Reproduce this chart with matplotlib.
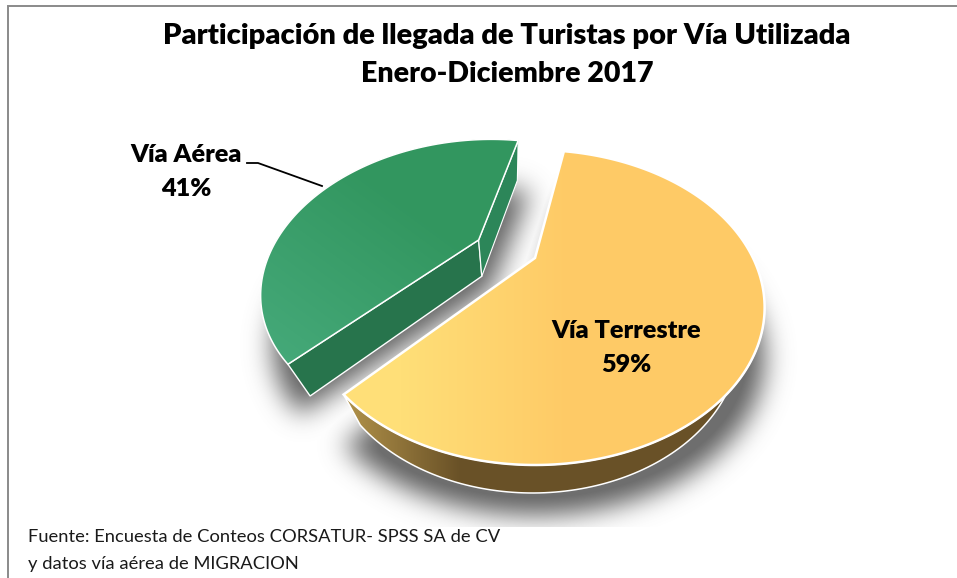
import numpy as np
import matplotlib
matplotlib.use("Agg")
import matplotlib.pyplot as plt
from matplotlib.patches import Polygon
from matplotlib.path import Path

W, H = 957, 578

categories = ["Vía Terrestre", "Vía Aérea"]
shares = [59, 41]
title_lines = ["Participación de llegada de Turistas por Vía Utilizada", "Enero-Diciembre 2017"]
source_lines = ["Fuente: Encuesta de Conteos CORSATUR- SPSS SA de CV", "y datos vía aérea de MIGRACION"]

plt.rcParams["font.family"] = ["Lato", "DejaVu Sans"]

# pie geometry, a flat disc seen in perspective
APEX_X, APEX_Y = 535, 258
SX, SY, PERSP = 218, 142, 0.314
START = -80
EXPLODE = [0, 0.3]


def project(x, y):
    w = 1 - PERSP * y
    return APEX_X + SX * x / w, APEX_Y + SY * y / w


def extrude(px, py, k=1.0):
    # lower face of the disc, pulled towards the vanishing point
    return 510 + (px - 510) * (1 - 0.1 * k), py + (45.2 - 0.037 * py) * k


def wedge(a0, a1, explode):
    mid = np.radians((a0 + a1) / 2)
    ex, ey = explode * np.cos(mid), explode * np.sin(mid)
    t = np.radians(np.linspace(a0, a1, 200))
    rim = np.column_stack(project(np.cos(t) + ex, np.sin(t) + ey))
    apex = np.array(project(ex, ey))
    return apex, rim


def blur(mask, sigma):
    r = int(sigma * 3)
    k = np.exp(-0.5 * (np.arange(-r, r + 1) / sigma) ** 2)
    k = k / k.sum()
    out = np.apply_along_axis(lambda v: np.convolve(v, k, mode="same"), 0, mask)
    return np.apply_along_axis(lambda v: np.convolve(v, k, mode="same"), 1, out)


yy, xx = np.mgrid[0:H, 0:W]
grid = np.column_stack([xx.ravel() + 0.5, yy.ravel() + 0.5])


def shadow(outline, dx, dy, sigma=13):
    p = outline + [dx, dy]
    m = Path(p).contains_points(grid).reshape(H, W).astype(float)
    m = blur(m, sigma)
    m[527:, :] = 0
    return m


def gradient(ax, poly, t, c0, c1, z):
    c0 = np.array(matplotlib.colors.to_rgb(c0))
    c1 = np.array(matplotlib.colors.to_rgb(c1))
    t = np.clip(t, 0, 1)[..., None]
    im = ax.imshow(c0 + (c1 - c0) * t, extent=(0, W, H, 0), zorder=z, interpolation="nearest", aspect="auto")
    patch = Polygon(poly, closed=True, transform=ax.transData, fc="none", ec="none")
    ax.add_patch(patch)
    im.set_clip_path(patch)


def outline(ax, poly, z, lw=1.4):
    ax.add_patch(Polygon(poly, closed=True, fc="none", ec="white", lw=lw, zorder=z, joinstyle="miter"))


fig = plt.figure(figsize=(W / 100, H / 100), dpi=100)
ax = fig.add_axes([0, 0, 1, 1])
ax.set_xlim(0, W)
ax.set_ylim(H, 0)
ax.axis("off")

# slices, angles come from the shares
sweep = np.array(shares) / sum(shares) * 360
a0 = START
a1 = a0 + sweep[0]
a2 = a1 + sweep[1]
apex_o, rim_o = wedge(a0, a1, EXPLODE[0])
apex_g, rim_g = wedge(a1, a2, EXPLODE[1])
# the pulled out slice sits a little narrower than pure perspective gives
rim_g[:, 0] = apex_g[0] + (rim_g[:, 0] - apex_g[0]) * 0.965

top_o = np.vstack([apex_o, rim_o])
top_g = np.vstack([apex_g, rim_g])

# soft shadows
sh = shadow(top_o, 0, 50)
sh = np.maximum(sh, shadow(top_g, 12, 50))
rgba = np.zeros((H, W, 4))
rgba[..., :3] = 0.40
rgba[..., 3] = np.clip(sh * 1.1, 0, 1) * 0.95
ax.imshow(rgba, extent=(0, W, H, 0), zorder=1, interpolation="bilinear", aspect="auto")

# green slice walls
low_rim_g = np.column_stack(extrude(rim_g[:, 0], rim_g[:, 1]))
low_apex_g = np.array(extrude(*apex_g))
front_g = np.vstack([rim_g[0], apex_g, low_apex_g, low_rim_g[0]])
right_g = np.vstack([apex_g, rim_g[-1], low_rim_g[-1], low_apex_g])
curve_g = np.vstack([rim_g, low_rim_g[::-1]])
ax.add_patch(Polygon(curve_g, closed=True, fc="#2a7a50", ec="none", zorder=2))
ax.add_patch(Polygon(front_g, closed=True, fc="#27744c", ec="white", lw=1.0, zorder=3))
ax.add_patch(Polygon(right_g, closed=True, fc="#2c8659", ec="white", lw=0.8, zorder=3))
t = ((xx - 519) * -0.55 + (yy - 140) * 0.75) / 240
gradient(ax, top_g, t - 0.45, "#32965f", "#4aae80", 4)
outline(ax, top_g, 5, 1.1)

# orange slice walls
low_rim_o = np.column_stack(extrude(rim_o[:, 0], rim_o[:, 1]))
wall_o = np.vstack([rim_o, low_rim_o[::-1]])
gradient(ax, wall_o, (xx - 350) / 110, "#ae8f48", "#695127", 6)
outline(ax, wall_o, 6, 1.1)
gradient(ax, top_o, (xx - 400) / 170, "#ffdf78", "#feca66", 7)
outline(ax, top_o, 8, 1.8)

# frame
ax.plot([8, 8, W], [H, 6, 6], color="#8a8a8a", lw=1.4, zorder=9, solid_joinstyle="miter")

# title and labels
ax.text(507, 36, title_lines[0], ha="center", va="center", fontsize=21, fontweight="heavy", color="black", zorder=10)
ax.text(507, 74, title_lines[1], ha="center", va="center", fontsize=20.5, fontweight="heavy", color="black", zorder=10)
ax.text(626, 331, categories[0], ha="center", va="center", fontsize=18.2, fontweight="heavy", zorder=10)
ax.text(626, 365, f"{shares[0]}%", ha="center", va="center", fontsize=18.2, fontweight="heavy", zorder=10)
ax.text(186, 155, categories[1], ha="center", va="center", fontsize=18.2, fontweight="heavy", zorder=10)
ax.text(186, 189, f"{shares[1]}%", ha="center", va="center", fontsize=18.2, fontweight="heavy", zorder=10)
ax.plot([247, 258, 322], [163, 163, 186], color="black", lw=1.3, zorder=10)

ax.text(28, 537, source_lines[0], ha="left", va="center", fontsize=13.25, color="#1a1a1a", zorder=10)
ax.text(28, 564, source_lines[1], ha="left", va="center", fontsize=13.25, color="#1a1a1a", zorder=10)

ax.set_xlim(0, W)
ax.set_ylim(H, 0)
fig.savefig("out.png", dpi=100)
